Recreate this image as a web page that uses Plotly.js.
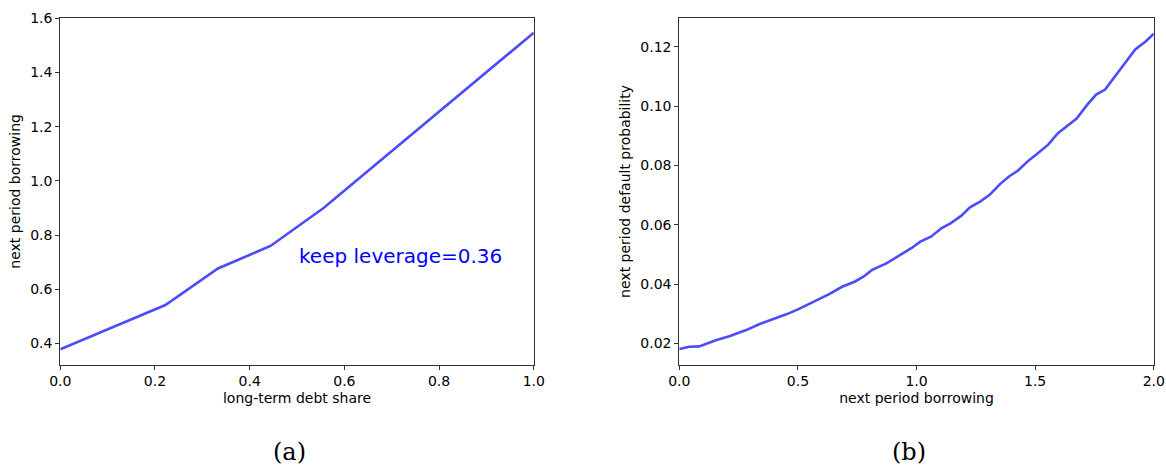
<!DOCTYPE html>
<html>
<head>
<meta charset="utf-8">
<script src="https://cdn.plot.ly/plotly-3.0.1.min.js"></script>
<style>
  html, body { margin: 0; padding: 0; background: #fff; }
  #chart { width: 1166px; height: 466px; }
</style>
</head>
<body>
<div id="chart"></div>
<script>
// panel (a): borrowing against long-term debt share
const debtShare = [0, 0.111, 0.222, 0.333, 0.444, 0.556, 0.667, 0.778, 0.889, 1.0];
const borrowingA = [0.379, 0.46, 0.542, 0.677, 0.760, 0.900, 1.062, 1.224, 1.385, 1.547];

// panel (b): default probability against borrowing
const borrowingB = [0, 0.042, 0.084, 0.154, 0.214, 0.282, 0.334, 0.394, 0.454, 0.5,
    0.574, 0.634, 0.686, 0.739, 0.776, 0.813, 0.873, 0.933, 0.978, 1.016,
    1.061, 1.106, 1.143, 1.188, 1.225, 1.27, 1.308, 1.353, 1.39, 1.428,
    1.473, 1.51, 1.555, 1.596, 1.637, 1.675, 1.72, 1.757, 1.795, 1.832,
    1.877, 1.922, 1.967, 2.0];
const defaultProb = [0.0181, 0.0189, 0.0190, 0.0211, 0.0225, 0.0245, 0.0264, 0.0281, 0.0299, 0.0315,
    0.0344, 0.0367, 0.0391, 0.0408, 0.0425, 0.0448, 0.0470, 0.0498, 0.0521, 0.0543,
    0.0560, 0.0589, 0.0605, 0.0630, 0.0659, 0.0679, 0.0701, 0.0738, 0.0763, 0.0783,
    0.0817, 0.0840, 0.0870, 0.0909, 0.0934, 0.0958, 0.1005, 0.1039, 0.1056, 0.1096,
    0.1146, 0.1191, 0.1219, 0.1244];

const noteText = 'keep leverage=0.36';
const panelLabels = ['(a)', '(b)'];

const lineStyle = { color: 'rgba(0,0,255,0.7)', width: 2.6 };
const tickFont = { family: 'DejaVu Sans', size: 14, color: '#000' };
const titleFont = { family: 'DejaVu Sans', size: 14, color: '#000' };

const axisBase = {
    showline: true,
    mirror: true,
    linecolor: '#333',
    linewidth: 1,
    showgrid: false,
    zeroline: false,
    ticks: 'outside',
    ticklen: 4,
    tickwidth: 1,
    tickcolor: '#333',
    tickfont: tickFont,
};

const data = [
    { x: debtShare, y: borrowingA, type: 'scatter', mode: 'lines', line: lineStyle,
      xaxis: 'x', yaxis: 'y', showlegend: false, hoverinfo: 'skip' },
    { x: borrowingB, y: defaultProb, type: 'scatter', mode: 'lines', line: lineStyle,
      xaxis: 'x2', yaxis: 'y2', showlegend: false, hoverinfo: 'skip' },
];

const layout = {
    width: 1166,
    height: 466,
    margin: { t: 0, b: 0, l: 0, r: 0 },
    paper_bgcolor: '#fff',
    plot_bgcolor: '#fff',
    font: { family: 'DejaVu Sans', color: '#000' },
    xaxis: { ...axisBase, domain: [0.0517, 0.4578], range: [0, 1], dtick: 0.2, tickformat: '.1f',
        title: { text: 'long-term debt share', font: titleFont, standoff: 4 }, anchor: 'y' },
    yaxis: { ...axisBase, domain: [0.2178, 0.9607], range: [0.3225, 1.6], dtick: 0.2, tickformat: '.1f',
        title: { text: 'next period borrowing', font: titleFont, standoff: 6 }, anchor: 'x' },
    xaxis2: { ...axisBase, domain: [0.5826, 0.9895], range: [0, 2], dtick: 0.5, tickformat: '.1f',
        title: { text: 'next period borrowing', font: titleFont, standoff: 4 }, anchor: 'y2' },
    yaxis2: { ...axisBase, domain: [0.2178, 0.9607], range: [0.0129, 0.1296], dtick: 0.02, tickformat: '.2f',
        title: { text: 'next period default probability', font: titleFont, standoff: 6 }, anchor: 'x2' },
    annotations: [
        { xref: 'x', yref: 'y', x: 0.5, y: 0.723, text: noteText, showarrow: false,
          xanchor: 'left', yanchor: 'middle', font: { family: 'DejaVu Sans', size: 20, color: '#0000ff' } },
        { xref: 'paper', yref: 'paper', x: 289 / 1166, y: 0.03, text: panelLabels[0], showarrow: false,
          xanchor: 'center', yanchor: 'middle', font: { family: 'DejaVu Serif', size: 24, color: '#000' } },
        { xref: 'paper', yref: 'paper', x: 909 / 1166, y: 0.03, text: panelLabels[1], showarrow: false,
          xanchor: 'center', yanchor: 'middle', font: { family: 'DejaVu Serif', size: 24, color: '#000' } },
    ],
};

Plotly.newPlot('chart', data, layout, { displayModeBar: false, staticPlot: true });
</script>
</body>
</html>
